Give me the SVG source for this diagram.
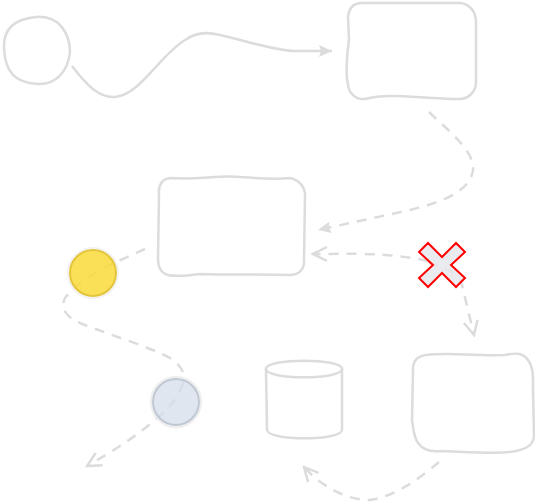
<svg xmlns="http://www.w3.org/2000/svg" width="535" height="502" viewBox="0 0 535 502">
<style>
.shape{fill:#ffffff;stroke:#dcdcdc;stroke-width:2.5;stroke-linejoin:round;stroke-linecap:round}
.edge{fill:none;stroke:#dcdcdc;stroke-width:2.5;stroke-linecap:butt}
.dash{stroke-dasharray:10 8}
</style>
<defs>
<marker id="open" viewBox="0 0 18 18" refX="16" refY="9" markerWidth="18" markerHeight="18" markerUnits="userSpaceOnUse" orient="auto">
<path d="M2,2 L16,9 L2,16" fill="none" stroke="#dcdcdc" stroke-width="2.5"/>
</marker>
<marker id="filled" viewBox="0 0 14 14" refX="13" refY="7" markerWidth="14" markerHeight="14" markerUnits="userSpaceOnUse" orient="auto">
<path d="M0,1 L13,7 L0,13 L2,7 Z" fill="#dcdcdc"/>
</marker>
</defs>
<g id="connectors">
<path class="edge" d="M72,66 C88,87 100,98 115,97 C140,95 160,55 185,40 C195,33 205,32 215,34 C245,40 270,50 295,51 L332,51" marker-end="url(#filled)"/>
<path class="edge dash" d="M429,112 C445,128 475,150 473,170 C470,195 430,205 410,210 L318,230" marker-end="url(#filled)"/>
<path class="edge dash" d="M428,261 C400,255 370,253 330,254 L313,254" marker-end="url(#open)"/>
<path class="edge dash" d="M428,262 C445,268 458,272 462,285 L474,335" marker-end="url(#open)"/>
<path class="edge dash" d="M145,249 L114,263 C95,272 75,285 65,298 C60,308 65,318 85,325 C110,335 150,347 170,358 C180,365 186,372 183,383"/>
<path class="edge dash" d="M183,383 C178,400 165,412 155,420 C135,437 115,450 87,466" marker-end="url(#open)"/>
<path class="edge dash" d="M439,462 C420,478 395,497 369,500 C345,500 320,485 304,467" marker-end="url(#open)"/>
</g>
<g id="start-event">
<path class="shape" d="M36,17 C60,15 70,35 70,52 C68,72 55,85 38,84 C15,83 5,72 4,48 C3,28 15,19 36,17 Z"/>
</g>
<g id="task-top">
<path class="shape" d="M362,3 L460,3 C470,4 476,12 476,22 L476,82 C476,92 468,99 460,99 C420,99 390,92 365,99 C355,100 348,92 348,84 C346,78 346,60 349,40 L348,17 C349,8 354,3 362,3 Z"/>
</g>
<g id="task-middle">
<path class="shape" d="M172,178 C200,180 215,175 240,177 C260,178 270,180 290,178 C300,180 305,188 305,195 L304,262 C304,270 298,275 290,275 C260,274 230,275 200,274 C185,276 172,276 168,275 C160,273 158,265 158,258 L159,195 C158,185 162,178 172,178 Z"/>
</g>
<g id="task-bottom">
<path class="shape" d="M426,355 C450,352 470,356 505,355 C515,353 522,352 528,360 C534,368 533,380 533,390 L534,435 C534,443 528,448 520,450 C505,455 470,452 440,451 C430,452 423,450 418,443 C413,436 414,430 412,420 L413,372 C412,360 418,356 426,355 Z"/>
</g>
<g id="datastore">
<path class="shape" d="M266,369 L267,430 C268,441 341,441 342,430 L342,369 Z"/>
<path class="shape" d="M266,369 C266,358 342,358 342,369 C342,380 266,380 266,369 Z"/>
</g>
<g id="yellow-event">
<circle cx="93" cy="273" r="25" fill="none" stroke="#f2f2f2" stroke-width="2"/>
<circle cx="93" cy="273" r="23" fill="#f8da3a" fill-opacity="0.85" stroke="#e4c43a" stroke-width="2"/>
</g>
<g id="blue-event">
<circle cx="176" cy="402" r="25" fill="none" stroke="#eeeeee" stroke-width="2"/>
<circle cx="176" cy="402" r="23" fill="#d6deea" fill-opacity="0.75" stroke="#c0c8d3" stroke-width="2"/>
</g>
<g id="cross-gateway">
<polygon points="419,252 428,243 442,257 456,243 465,252 451,265 465,278 456,287 442,273 428,287 419,278 433,265" fill="#e6e8eb" fill-opacity="0.85" stroke="#ff0000" stroke-width="2" stroke-linejoin="miter"/>
</g>
</svg>
